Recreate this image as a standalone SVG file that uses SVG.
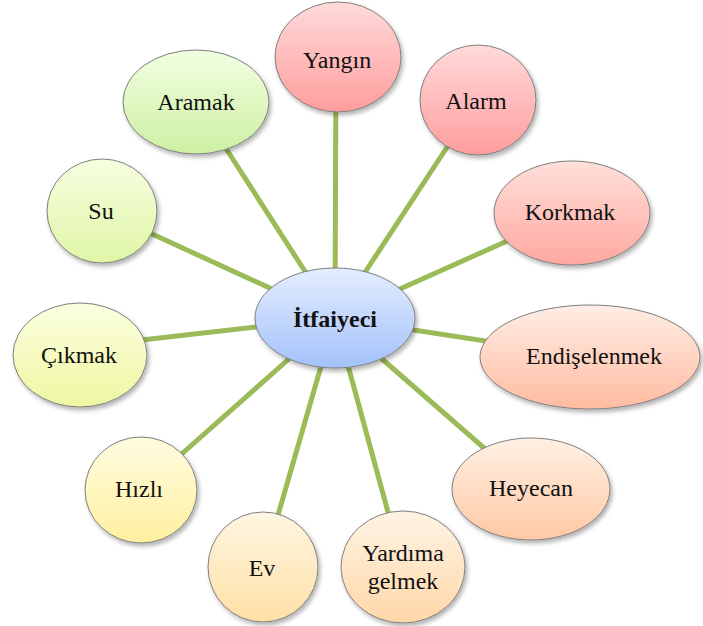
<svg xmlns="http://www.w3.org/2000/svg" width="703" height="626" viewBox="0 0 703 626">
<defs>
<filter id="sh" x="-20%" y="-20%" width="150%" height="150%"><feDropShadow dx="2" dy="3" stdDeviation="2" flood-color="#000" flood-opacity="0.3"/></filter>
<linearGradient id="gBlue" x1="0" y1="0" x2="0" y2="1"><stop offset="0" stop-color="#e4edff"/><stop offset="1" stop-color="#a3c2fb"/></linearGradient>
<linearGradient id="gRed" x1="0" y1="0" x2="0" y2="1"><stop offset="0" stop-color="#ffdada"/><stop offset="1" stop-color="#ff9d9d"/></linearGradient>
<linearGradient id="gSalmon" x1="0" y1="0" x2="0" y2="1"><stop offset="0" stop-color="#ffe0da"/><stop offset="1" stop-color="#ffa8a0"/></linearGradient>
<linearGradient id="gPeach" x1="0" y1="0" x2="0" y2="1"><stop offset="0" stop-color="#ffeee6"/><stop offset="1" stop-color="#ffbba0"/></linearGradient>
<linearGradient id="gPeach2" x1="0" y1="0" x2="0" y2="1"><stop offset="0" stop-color="#fff0e4"/><stop offset="1" stop-color="#ffc8a4"/></linearGradient>
<linearGradient id="gOrange" x1="0" y1="0" x2="0" y2="1"><stop offset="0" stop-color="#fff4e4"/><stop offset="1" stop-color="#ffd7a8"/></linearGradient>
<linearGradient id="gOrange2" x1="0" y1="0" x2="0" y2="1"><stop offset="0" stop-color="#fff6e2"/><stop offset="1" stop-color="#ffe0a6"/></linearGradient>
<linearGradient id="gYellow" x1="0" y1="0" x2="0" y2="1"><stop offset="0" stop-color="#fffce0"/><stop offset="1" stop-color="#fff0a0"/></linearGradient>
<linearGradient id="gYG" x1="0" y1="0" x2="0" y2="1"><stop offset="0" stop-color="#fcffe0"/><stop offset="1" stop-color="#eef7a2"/></linearGradient>
<linearGradient id="gLG" x1="0" y1="0" x2="0" y2="1"><stop offset="0" stop-color="#f6ffe0"/><stop offset="1" stop-color="#e0f5a6"/></linearGradient>
<linearGradient id="gGreen" x1="0" y1="0" x2="0" y2="1"><stop offset="0" stop-color="#f2ffe2"/><stop offset="1" stop-color="#cdf0a2"/></linearGradient>
</defs>
<style>
.n{stroke:#7f7f7f;stroke-width:1;filter:url(#sh)}
.t{font-family:'Times New Roman',Tinos,'Liberation Serif','Noto Serif','DejaVu Serif','Nimbus Roman',FreeSerif,Times,serif;font-size:24px;fill:#111;text-anchor:middle}
.c{stroke:#9bbb59;stroke-width:5;stroke-linecap:butt}
</style>
<g id="connectors">
<line class="c" x1="335" y1="318" x2="336" y2="57"/>
<line class="c" x1="335" y1="318" x2="478" y2="100"/>
<line class="c" x1="335" y1="318" x2="572" y2="212"/>
<line class="c" x1="335" y1="318" x2="590" y2="357"/>
<line class="c" x1="335" y1="318" x2="531" y2="489"/>
<line class="c" x1="335" y1="318" x2="403" y2="567"/>
<line class="c" x1="335" y1="318" x2="263" y2="567"/>
<line class="c" x1="335" y1="318" x2="141" y2="490"/>
<line class="c" x1="335" y1="318" x2="80" y2="347"/>
<line class="c" x1="335" y1="318" x2="102" y2="211"/>
<line class="c" x1="335" y1="318" x2="196" y2="102"/>
</g>
<g id="yangin"><ellipse class="n" cx="338" cy="57" rx="63" ry="55" fill="url(#gRed)"/><text class="t" x="337" y="68">Yangın</text></g>
<g id="alarm"><ellipse class="n" cx="478" cy="100" rx="58" ry="55" fill="url(#gRed)"/><text class="t" x="476" y="109">Alarm</text></g>
<g id="korkmak"><ellipse class="n" cx="572" cy="213" rx="78" ry="52" fill="url(#gSalmon)"/><text class="t" x="570" y="220">Korkmak</text></g>
<g id="endiselenmek"><ellipse class="n" cx="590" cy="357" rx="110" ry="52" fill="url(#gPeach)"/><text class="t" x="594" y="364">Endişelenmek</text></g>
<g id="heyecan"><ellipse class="n" cx="531" cy="489" rx="79" ry="51" fill="url(#gPeach2)"/><text class="t" x="531" y="496">Heyecan</text></g>
<g id="yardima"><ellipse class="n" cx="403" cy="567" rx="62" ry="56" fill="url(#gOrange)"/><text class="t" x="403" y="561">Yardıma</text><text class="t" x="403" y="589">gelmek</text></g>
<g id="ev"><ellipse class="n" cx="263" cy="567" rx="55" ry="55" fill="url(#gOrange2)"/><text class="t" x="262" y="576">Ev</text></g>
<g id="hizli"><ellipse class="n" cx="141" cy="490" rx="56" ry="53" fill="url(#gYellow)"/><text class="t" x="139" y="497">Hızlı</text></g>
<g id="cikmak"><ellipse class="n" cx="80" cy="355" rx="67" ry="52" fill="url(#gYG)"/><text class="t" x="79" y="363">Çıkmak</text></g>
<g id="su"><ellipse class="n" cx="102" cy="211" rx="55" ry="52" fill="url(#gLG)"/><text class="t" x="101" y="219">Su</text></g>
<g id="aramak"><ellipse class="n" cx="196" cy="102" rx="73" ry="52" fill="url(#gGreen)"/><text class="t" x="196" y="110">Aramak</text></g>
<g id="itfaiyeci"><ellipse class="n" cx="335" cy="318" rx="80" ry="50" fill="url(#gBlue)"/><text class="t" x="335" y="327" style="font-weight:bold">İtfaiyeci</text></g>
</svg>
